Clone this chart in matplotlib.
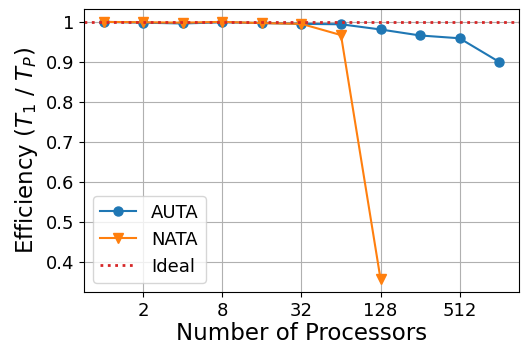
import matplotlib
matplotlib.use("Agg")
import matplotlib.pyplot as plt
from matplotlib.ticker import FuncFormatter, NullLocator, MultipleLocator

procs = [1, 2, 4, 8, 16, 32, 64, 128, 256, 512, 1024]
auta = [1.0, 0.998, 0.996, 0.999, 0.997, 0.995, 0.994, 0.981, 0.966, 0.959, 0.900]
nata_procs = [1, 2, 4, 8, 16, 32, 64, 128]
nata = [1.0, 0.999, 0.998, 1.0, 0.997, 0.995, 0.967, 0.357]
xticks = [2, 8, 32, 128, 512]

fig = plt.figure(figsize=(5.22, 3.47), dpi=100)
ax = fig.add_axes([0.161, 0.159, 0.833, 0.815])

ax.plot(procs, auta, marker='o', color='tab:blue', markersize=6.5, label='AUTA')
ax.plot(nata_procs, nata, marker='v', color='tab:orange', markersize=6.5, label='NATA')
ax.axhline(1.0, color='tab:red', linestyle=':', linewidth=2, label='Ideal')

ax.set_xscale('log', base=2)
ax.set_xticks(xticks)
ax.set_xticklabels([str(t) for t in xticks])
ax.xaxis.set_minor_locator(NullLocator())
ax.yaxis.set_major_locator(MultipleLocator(0.1))
ax.yaxis.set_major_formatter(FuncFormatter(lambda v, p: '{:g}'.format(round(v, 2))))

ax.tick_params(labelsize=13)
ax.set_xlabel('Number of Processors', fontsize=16.5, labelpad=2)
ax.set_ylabel('Efficiency ($T_1$ / $T_P$)', fontsize=16.5)
ax.grid(True)
ax.legend(loc='lower left', fontsize=13)

plt.savefig('out.png', dpi=100)
